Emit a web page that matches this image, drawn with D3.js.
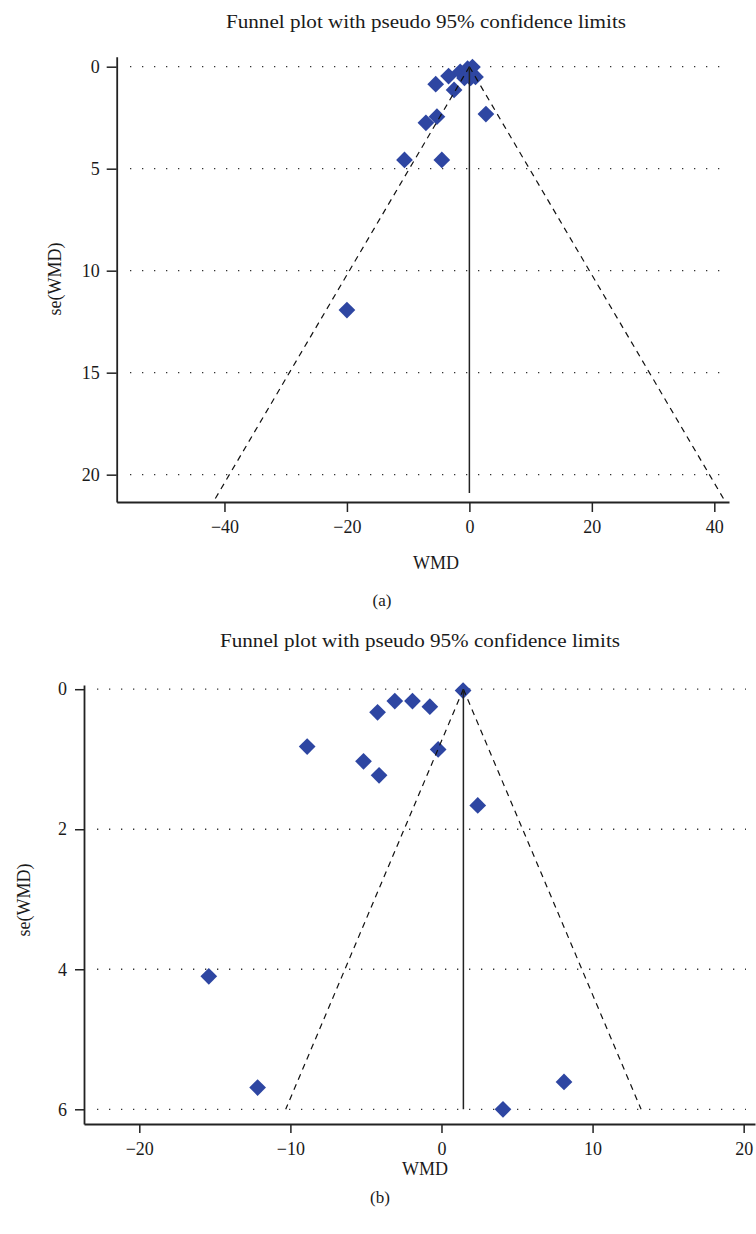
<!DOCTYPE html>
<html>
<head>
<meta charset="utf-8">
<script src="https://cdn.jsdelivr.net/npm/d3@7"></script>
<style>
  html, body { margin: 0; padding: 0; background: #fff; }
  svg { display: block; }
  text { font-family: "Liberation Serif", "Times New Roman", serif; fill: #1a1a1a; }
</style>
</head>
<body>
<svg id="chart" width="756" height="1234"></svg>
<script>
// ---------- data ----------
const titleText = "Funnel plot with pseudo 95% confidence limits";
const xLabel = "WMD";
const yLabel = "se(WMD)";

// Panel (a)
const wmdA = [-5.5, -3.4, -2.5, 2.7, -5.3, -7.1, -10.6, -4.5, -20.0, -1.5, -0.3, 0.5, 1.0, -0.8, 0.2];
const seA  = [0.86, 0.46, 1.14, 2.32, 2.45, 2.75, 4.57, 4.57, 11.93, 0.25, 0.10, 0.02, 0.50, 0.55, 0.55];
const thetaA = 0;
const seLineA = 20.9;
const xTicksA = [-40, -20, 0, 20, 40];
const yTicksA = [0, 5, 10, 15, 20];

// Panel (b)
const wmdB = [1.43, -3.09, -1.92, -4.23, -0.77, -8.89, -0.22, -5.16, -4.13, 2.4, -15.4, -12.17, 8.11, 4.07];
const seB  = [0.02, 0.17, 0.17, 0.33, 0.25, 0.82, 0.86, 1.03, 1.23, 1.66, 4.10, 5.69, 5.61, 6.00];
const thetaB = 1.45;
const seLineB = 6.0;
const xTicksB = [-20, -10, 0, 10, 20];
const yTicksB = [0, 2, 4, 6];

const z95 = 1.96;
const markColor = "#2E46A2";

const svg = d3.select("#chart");

function panel(cfg) {
  const g = svg.append("g");
  const x = d3.scaleLinear().domain(cfg.xDomain).range(cfg.xRange);
  const y = d3.scaleLinear().domain(cfg.yDomain).range(cfg.yRange);

  // gridlines (dotted)
  g.append("g").selectAll("line").data(cfg.yTicks).join("line")
    .attr("x1", cfg.gridX[0]).attr("x2", cfg.gridX[1])
    .attr("y1", d => y(d)).attr("y2", d => y(d))
    .attr("stroke", "#333").attr("stroke-width", 1.3)
    .attr("stroke-dasharray", "1.3 10.7");

  // points
  const sym = d3.symbol().type(d3.symbolSquare).size(140);
  g.append("g").selectAll("path").data(cfg.wmd.map((v, i) => [v, cfg.se[i]])).join("path")
    .attr("d", sym)
    .attr("transform", d => `translate(${x(d[0])},${y(d[1])}) rotate(45)`)
    .attr("fill", markColor);

  // funnel lines
  const seBottom = cfg.seDash;
  const left = [[cfg.theta, 0], [cfg.theta - z95 * seBottom, seBottom]];
  const right = [[cfg.theta, 0], [cfg.theta + z95 * seBottom, seBottom]];
  const line = d3.line().x(d => x(d[0])).y(d => y(d[1]));
  [left, right].forEach(pts => {
    g.append("path").attr("d", line(pts))
      .attr("fill", "none").attr("stroke", "#111").attr("stroke-width", 1.2)
      .attr("stroke-dasharray", "6 5");
  });
  g.append("path").attr("d", line([[cfg.theta, 0], [cfg.theta, cfg.seLine]]))
    .attr("fill", "none").attr("stroke", "#222").attr("stroke-width", 1.5);

  // axes
  const xAxis = d3.axisBottom(x).tickValues(cfg.xTicks).tickSize(cfg.tick).tickSizeOuter(0)
    .tickPadding(cfg.xPad).tickFormat(d => d < 0 ? "\u2212" + Math.abs(d) : String(d));
  const yAxis = d3.axisLeft(y).tickValues(cfg.yTicks).tickSize(cfg.tick).tickSizeOuter(0)
    .tickPadding(cfg.yPad).tickFormat(d3.format("d"));

  const gx = g.append("g").attr("transform", `translate(0,${cfg.yRange[1]})`).call(xAxis);
  const gy = g.append("g").attr("transform", `translate(${cfg.xRange[0]},0)`).call(yAxis);
  [gx, gy].forEach(a => {
    a.attr("font-family", null).attr("font-size", null);
    a.select(".domain").attr("stroke", "#222").attr("stroke-width", 1.8);
    a.selectAll(".tick line").attr("stroke", "#222").attr("stroke-width", 1.5);
    a.selectAll(".tick text")
      .attr("font-family", "Liberation Serif, serif")
      .style("font-family", "'Liberation Serif', serif")
      .style("font-size", "18px").attr("fill", "#1a1a1a");
  });

  // title
  g.append("text").attr("x", cfg.titlePos[0]).attr("y", cfg.titlePos[1])
    .attr("text-anchor", "middle").style("font-size", "19px")
    .attr("textLength", 400).attr("lengthAdjust", "spacingAndGlyphs")
    .text(titleText);
  // x label
  g.append("text").attr("x", cfg.xLabelPos[0]).attr("y", cfg.xLabelPos[1])
    .attr("text-anchor", "middle").style("font-size", "18px").text(xLabel);
  // y label
  g.append("text").attr("transform", `translate(${cfg.yLabelPos[0]},${cfg.yLabelPos[1]}) rotate(-90)`)
    .attr("text-anchor", "middle").style("font-size", "18px").text(yLabel);
  // panel tag
  g.append("text").attr("x", cfg.tagPos[0]).attr("y", cfg.tagPos[1])
    .attr("text-anchor", "middle").style("font-size", "17px").text(cfg.tag);
}

panel({
  wmd: wmdA, se: seA, theta: thetaA, seLine: seLineA, seDash: 21.34,
  xDomain: [-57.6, 42.4], xRange: [116.7, 729],
  yDomain: [-0.49, 21.34], yRange: [56.7, 502],
  xTicks: xTicksA, yTicks: yTicksA, gridX: [130, 721],
  tick: 10, xPad: 8, yPad: 7,
  titlePos: [426, 28], xLabelPos: [436, 569], yLabelPos: [61, 279], tagPos: [382, 606], tag: "(a)"
});

panel({
  wmd: wmdB, se: seB, theta: thetaB, seLine: seLineB, seDash: seLineB,
  xDomain: [-23.66, 20.75], xRange: [84, 755],
  yDomain: [-0.06, 6.21], yRange: [685, 1124],
  xTicks: xTicksB, yTicks: yTicksB, gridX: [97, 746],
  tick: 9, xPad: 9, yPad: 8,
  titlePos: [420, 647], xLabelPos: [425, 1175], yLabelPos: [30, 900], tagPos: [380, 1203], tag: "(b)"
});
</script>
</body>
</html>
